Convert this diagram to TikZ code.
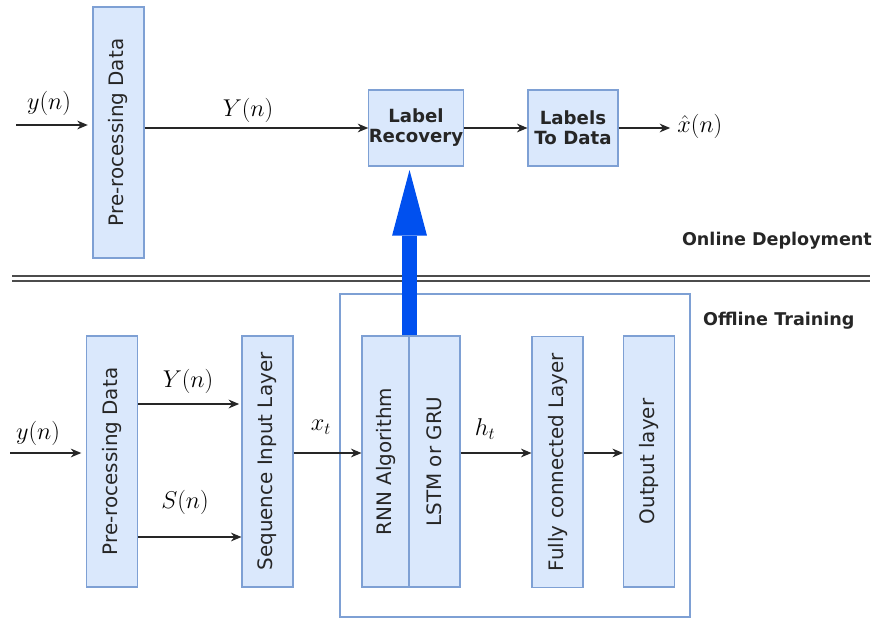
\documentclass[tikz,border=0pt]{standalone}
\usepackage{amsmath}
\usepackage{fontspec}
\setsansfont{DejaVu Sans}
\usepackage{xcolor}
\usepackage{tikz}
\usetikzlibrary{arrows.meta,positioning}

\definecolor{boxfill}{HTML}{DAE8FC}
\definecolor{boxline}{HTML}{7EA0D4}
\definecolor{bigblue}{HTML}{0050EF}
\newcommand{\pxu}{0.03cm}

\tikzset{
    block/.style={draw=boxline,fill=boxfill,line width=0.9pt,inner sep=0pt},
    tall/.style={block,minimum width={51*\pxu},minimum height={251*\pxu}},
    wide/.style={block,minimum width={90*\pxu},minimum height={76*\pxu}},
    vtext/.style={rotate=90,font=\sffamily\fontsize{17}{20}\selectfont,text=black!85},
    btext/.style={font=\sffamily\bfseries\fontsize{15.5}{17}\selectfont,align=center,text=black!85},
    stext/.style={font=\sffamily\bfseries\fontsize{15}{18}\selectfont,text=black!85},
    sig/.style={font=\fontsize{20.74}{25}\selectfont,inner sep=1pt},
    flow/.style={-{Stealth[length=9pt,width=7.5pt]},line width=1.1pt,black!85},
}

\begin{document}
\begin{tikzpicture}[x=0.03cm,y=-0.03cm]
    \useasboundingbox (0,0) rectangle (877,618);

    % Online deployment (top row):
    \node [tall,label={[vtext]center:Pre-rocessing Data}] (pre1) at (118.5,132.5) {};
    \node [wide,btext] (lr)  at (416,128) {Label\\Recovery};
    \node [wide,btext] (ltd) at (573,128) {Labels\\To Data};
    \node [sig,anchor=west] (xhat) at (676,126) {$\hat{x}(n)$};

    \coordinate (yin1) at (16,125);
    \node [sig] (ylab1) at (49,103) {$y(n)$};
    \node [sig] (Ylab1) at (248,110) {$Y(n)$};

    \draw [flow,shorten >=4pt] (yin1) -- (pre1.west |- yin1);
    \draw [flow] (pre1.east |- lr.west) -- (lr.west);
    \draw [flow] (lr.east) -- (ltd.west);
    \draw [flow,shorten >=5pt] (ltd.east) -- (xhat.west |- ltd.east);

    \node [stext,anchor=east] (online) at (876,241) {Online Deployment};

    % Separator between the two parts:
    \coordinate (sepL) at (12,278.5);
    \coordinate (sepR) at (870,278.5);
    \draw [double=white,double distance=3.4pt,line width=0.9pt,draw=gray!60!black] (sepL) -- (sepR);

    % Offline training (bottom row):
    \node [draw=boxline,line width=0.9pt,minimum width={350*\pxu},minimum height={323*\pxu}] (train) at (515,455.5) {};
    \node [stext,anchor=west] (offline) at (699,321) {Offline Training};

    \node [tall,label={[vtext]center:Pre-rocessing Data}] (pre2) at (112,461.5) {};
    \node [tall,label={[vtext]center:Sequence Input Layer}] (seq) at (267.5,461.5) {};
    \node [tall,minimum width={47*\pxu},label={[vtext]center:RNN Algorithm}] (rnn) at (385.5,461.5) {};
    \node [tall,label={[vtext]center:LSTM or GRU}] (lstm) at (434.5,461.5) {};
    \node [tall,label={[vtext]center:Fully connected Layer}] (fc) at (557.5,462) {};
    \node [tall,label={[vtext]center:Output layer}] (out) at (649,461.5) {};

    \coordinate (yin2) at (10,453);
    \coordinate (Yrow) at (0,404);
    \coordinate (Srow) at (0,537);
    \coordinate (mid) at (0,453);

    \node [sig] (ylab2) at (38,433) {$y(n)$};
    \node [sig] (Ylab2) at (188,381) {$Y(n)$};
    \node [sig] (Slab)  at (185,502) {$S(n)$};
    \node [sig] (xlab)  at (321,427) {$x_t$};
    \node [sig] (hlab)  at (485,429) {$h_t$};

    \draw [flow,shorten >=4pt] (yin2) -- (pre2.west |- yin2);
    \draw [flow,shorten >=2pt] (pre2.east |- Yrow) -- (seq.west |- Yrow);
    \draw [flow] (pre2.east |- Srow) -- (seq.west |- Srow);
    \draw [flow] (seq.east |- mid) -- (rnn.west |- mid);
    \draw [flow] (lstm.east |- mid) -- (fc.west |- mid);
    \draw [flow] (fc.east |- mid) -- (out.west |- mid);

    % Trained model handed over to the online part:
    \draw [bigblue,line width=12.7pt,-{Triangle[width=29.8pt,length=56pt,line width=0pt]}]
        (rnn.north east) -- ([yshift=-3pt]rnn.north east |- lr.south);
\end{tikzpicture}
\end{document}
